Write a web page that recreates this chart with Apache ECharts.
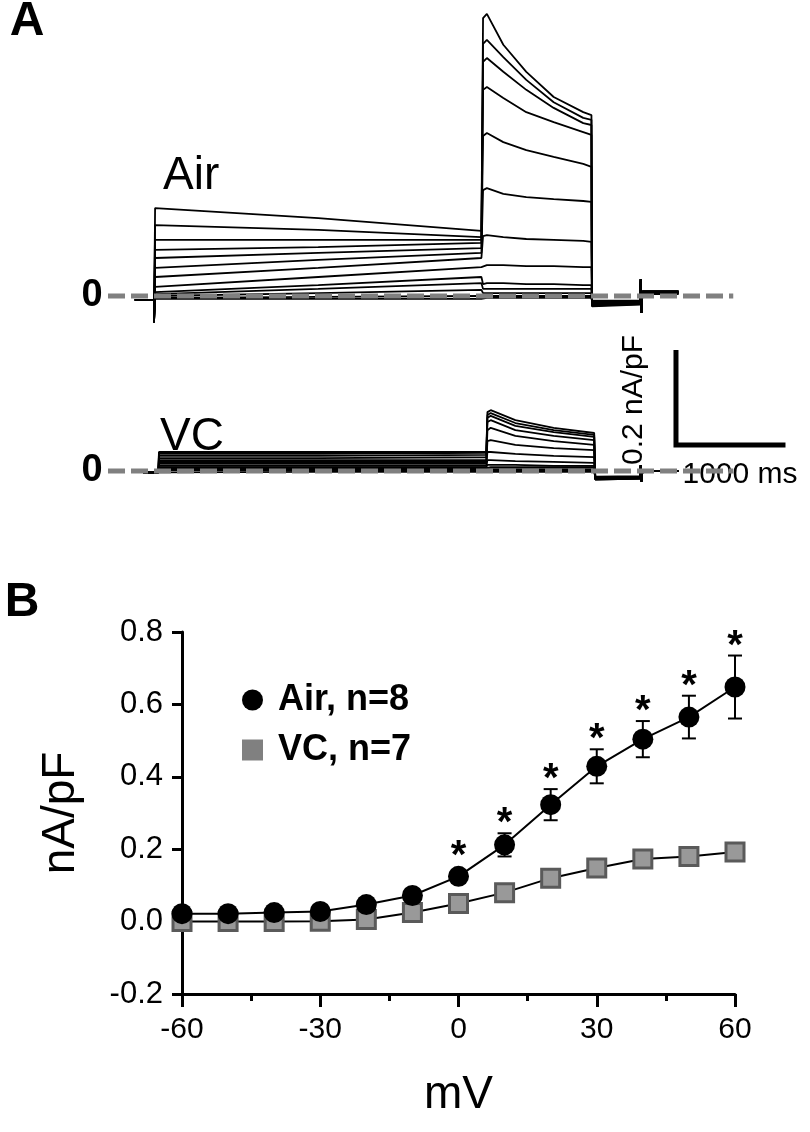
<!DOCTYPE html>
<html><head><meta charset="utf-8">
<script src="https://cdn.jsdelivr.net/npm/echarts@6/dist/echarts.min.js"></script>
<style>html,body{margin:0;padding:0;background:#fff}#c{width:810px;height:1132px}</style>
</head><body><div id="c"></div>
<script>
// ---------- Panel A : example current traces (nA/pF vs ms) ----------
const airTimes = [-175, 0, 0, 10, 1500, 2990, 3005, 3040, 3190, 3400, 3650, 3920, 3995, 4000, 4440, 4445, 4452, 4460, 4790];
const airTraces = [
  [-0.008,-0.008,-0.055, 0.185,0.164,0.137, 0.585,0.594,0.529,0.472,0.419,0.387,0.381, -0.022,-0.018, 0.035,-0.035, 0.010,0.010],
  [-0.008,-0.008,-0.055, 0.149,0.139,0.124, 0.531,0.539,0.503,0.455,0.408,0.375,0.371, -0.020,-0.016, 0.035,-0.035, 0.010,0.010],
  [-0.008,-0.008,-0.055, 0.118,0.118,0.118, 0.493,0.501,0.472,0.434,0.396,0.364,0.360, -0.020,-0.017, 0.035,-0.035, 0.009,0.009],
  [-0.008,-0.008,-0.055, 0.097,0.103,0.112, 0.434,0.440,0.417,0.387,0.366,0.345,0.339, -0.018,-0.015, 0.035,-0.035, 0.009,0.009],
  [-0.008,-0.008,-0.055, 0.080,0.091,0.101, 0.337,0.343,0.324,0.307,0.293,0.278,0.272, -0.017,-0.015, 0.035,-0.035, 0.008,0.008],
  [-0.008,-0.008,-0.055, 0.059,0.076,0.091, 0.223,0.227,0.215,0.208,0.204,0.200,0.198, -0.016,-0.014, 0.035,-0.035, 0.008,0.008],
  [-0.008,-0.008,-0.055, 0.040,0.059,0.080, 0.126,0.128,0.124,0.120,0.118,0.116,0.114, -0.015,-0.013, 0.035,-0.035, 0.008,0.008],
  [-0.008,-0.008,-0.055, 0.019,0.040,0.061, 0.063,0.065,0.065,0.063,0.063,0.061,0.061, -0.014,-0.013, 0.035,-0.035, 0.007,0.007],
  [-0.008,-0.008,-0.055, 0.008,0.023,0.040, 0.025,0.027,0.027,0.025,0.025,0.023,0.023, -0.013,-0.012, 0.035,-0.035, 0.007,0.007],
  [-0.008,-0.008,-0.055, 0.004,0.015,0.027, 0.015,0.015,0.015,0.015,0.015,0.015,0.015, -0.012,-0.012, 0.035,-0.035, 0.006,0.006],
  [-0.008,-0.008,-0.055, 0.000,0.006,0.013, 0.006,0.006,0.006,0.006,0.006,0.006,0.006, -0.012,-0.011, 0.035,-0.035, 0.005,0.005],
  [-0.008,-0.008,-0.055,-0.004,-0.002,0.000, 0.000,0.000,0.000,0.000,0.000,0.000,0.000, -0.011,-0.011, 0.035,-0.035, 0.005,0.005],
  [-0.008,-0.008,-0.055,-0.006,-0.006,-0.006, -0.004,-0.004,-0.004,-0.004,-0.004,-0.004,-0.004, -0.010,-0.010, 0.035,-0.035, 0.004,0.004]
];
const vcTimes = [-100, 40, 45, 1500, 3035, 3045, 3075, 3300, 3650, 4020, 4030, 4440, 4445, 4452, 4460, 4790];
const vcTraces = [
  [-0.003,-0.003, 0.040,0.040,0.040, 0.124,0.128,0.107,0.091,0.080, -0.018,-0.016, 0.012,-0.022, 0.000,0.000],
  [-0.003,-0.003, 0.036,0.036,0.038, 0.118,0.122,0.101,0.086,0.076, -0.018,-0.016, 0.012,-0.022, 0.000,0.000],
  [-0.003,-0.003, 0.032,0.032,0.034, 0.112,0.116,0.095,0.082,0.072, -0.017,-0.016, 0.012,-0.022, 0.000,0.000],
  [-0.003,-0.003, 0.027,0.027,0.029, 0.103,0.107,0.086,0.074,0.065, -0.017,-0.015, 0.012,-0.022, 0.000,0.000],
  [-0.003,-0.003, 0.023,0.023,0.023, 0.086,0.091,0.074,0.063,0.055, -0.016,-0.015, 0.012,-0.022, 0.000,0.000],
  [-0.003,-0.003, 0.019,0.019,0.019, 0.063,0.065,0.055,0.048,0.044, -0.016,-0.014, 0.012,-0.022, 0.000,0.000],
  [-0.003,-0.003, 0.015,0.015,0.015, 0.040,0.040,0.036,0.032,0.029, -0.015,-0.014, 0.012,-0.022, 0.000,0.000],
  [-0.003,-0.003, 0.011,0.011,0.011, 0.023,0.023,0.021,0.019,0.017, -0.015,-0.013, 0.012,-0.022, 0.000,0.000],
  [-0.003,-0.003, 0.008,0.008,0.008, 0.013,0.013,0.013,0.011,0.011, -0.014,-0.013, 0.012,-0.022, 0.000,0.000],
  [-0.003,-0.003, 0.006,0.006,0.006, 0.008,0.008,0.008,0.008,0.008, -0.014,-0.012, 0.012,-0.022, 0.000,0.000],
  [-0.003,-0.003, 0.004,0.004,0.004, 0.004,0.004,0.004,0.004,0.004, -0.013,-0.012, 0.012,-0.022, 0.000,0.000],
  [-0.003,-0.003, 0.002,0.002,0.002, 0.002,0.002,0.002,0.002,0.002, -0.013,-0.012, 0.012,-0.022, 0.000,0.000],
  [-0.003,-0.003,-0.002,-0.002,-0.002, -0.002,-0.002,-0.002,-0.002,-0.002, -0.012,-0.011, 0.012,-0.022, 0.000,0.000]
];
const zeroLineMs = [-420, 5290];
const scaleBarMs = 1000;
const scaleBarAmp = 0.2;
const scaleBarOrigin = [4767, 0.055];

// ---------- Panel B : I-V relation ----------
const voltages = [-60, -50, -40, -30, -20, -10, 0, 10, 20, 30, 40, 50, 60];
const airMean  = [0.022, 0.022, 0.025, 0.028, 0.047, 0.072, 0.125, 0.212, 0.323, 0.429, 0.504, 0.565, 0.648];
const airSem   = [0.000, 0.000, 0.000, 0.000, 0.000, 0.000, 0.008, 0.032, 0.043, 0.047, 0.050, 0.059, 0.087];
const vcMean   = [0.000, 0.000, 0.000, 0.001, 0.006, 0.025, 0.050, 0.080, 0.120, 0.148, 0.173, 0.180, 0.192];
const sigVoltages = [0, 10, 20, 30, 40, 50, 60];
const seriesNames = ['Air, n=8', 'VC, n=7'];

// ---------- layout ----------
const FONT = 'Liberation Sans, Arial, sans-serif';
const pxPerMs = 0.1095, pxPerNA = 475, onsetX = 154;
const tMin = -450, tMax = 5800;
const gLeft = onsetX + tMin * pxPerMs, gWidth = (tMax - tMin) * pxPerMs;
const airZeroY = 296, vcZeroY = 471;
const airY = [-0.06, 0.62], vcY = [-0.06, 0.26];

const chart = echarts.init(document.getElementById('c'), null, {renderer: 'canvas'});

function traceSeries(times, rows, gi) {
  return rows.map(row => ({
    type: 'line', xAxisIndex: gi, yAxisIndex: gi,
    data: times.map((t, j) => [t, row[j]]),
    symbol: 'none', silent: true, z: 2,
    lineStyle: {color: '#000', width: 1.8}
  }));
}
function zeroSeries(gi) {
  return {type: 'line', xAxisIndex: gi, yAxisIndex: gi, symbol: 'none', silent: true, z: 5,
    data: zeroLineMs.map(t => [t, 0]),
    lineStyle: {color: '#808080', width: 5, type: [17, 6]}};
}
const zeroLabelAxis = (gi, range) => ({
  type: 'value', gridIndex: gi, min: range[0], max: range[1], interval: 0.02,
  axisLine: {show: false}, axisTick: {show: false}, splitLine: {show: false},
  axisLabel: {show: true, margin: 2, color: '#000', fontFamily: FONT, fontSize: 38, fontWeight: 'bold',
    formatter: v => Math.abs(v) < 1e-6 ? '0' : ''}
});

const series = [
  ...traceSeries(airTimes, airTraces, 0),
  ...traceSeries(vcTimes, vcTraces, 1),
  zeroSeries(0), zeroSeries(1),
  {type: 'line', xAxisIndex: 1, yAxisIndex: 1, symbol: 'none', silent: true, z: 6,
    data: [[scaleBarOrigin[0], scaleBarOrigin[1] + scaleBarAmp], scaleBarOrigin, [scaleBarOrigin[0] + scaleBarMs, scaleBarOrigin[1]]],
    lineStyle: {color: '#000', width: 5, cap: 'butt', join: 'miter'}},
  {type: 'line', name: seriesNames[1], xAxisIndex: 2, yAxisIndex: 2, z: 3,
    data: voltages.map((v, i) => [v, vcMean[i]]),
    symbol: 'rect', symbolSize: 18,
    itemStyle: {color: '#999999', borderColor: '#5a5a5a', borderWidth: 3},
    lineStyle: {color: '#000', width: 2}},
  {type: 'custom', xAxisIndex: 2, yAxisIndex: 2, z: 4, silent: true,
    data: voltages.map((v, i) => [v, airMean[i], airSem[i]]),
    encode: {x: 0, y: 1},
    renderItem: (params, api) => {
      const x = api.value(0), m = api.value(1), e = api.value(2);
      const t = api.coord([x, m + e]), b = api.coord([x, m - e]);
      const w = 7, st = {stroke: '#000', lineWidth: 2};
      return {type: 'group', children: [
        {type: 'line', shape: {x1: t[0], y1: t[1], x2: b[0], y2: b[1]}, style: st},
        {type: 'line', shape: {x1: t[0] - w, y1: t[1], x2: t[0] + w, y2: t[1]}, style: st},
        {type: 'line', shape: {x1: b[0] - w, y1: b[1], x2: b[0] + w, y2: b[1]}, style: st}
      ]};
    }},
  {type: 'line', name: seriesNames[0], xAxisIndex: 2, yAxisIndex: 2, z: 5,
    data: voltages.map((v, i) => [v, airMean[i]]),
    symbol: 'circle', symbolSize: 21,
    itemStyle: {color: '#000'},
    lineStyle: {color: '#000', width: 2}},
  {type: 'custom', xAxisIndex: 2, yAxisIndex: 2, z: 6, silent: true,
    data: sigVoltages.map(v => { const i = voltages.indexOf(v); return [v, airMean[i], airSem[i]]; }),
    encode: {x: 0, y: 1},
    renderItem: (params, api) => {
      const x = api.value(0), m = api.value(1), e = api.value(2);
      const top = Math.min(api.coord([x, m + e])[1], api.coord([x, m])[1] - 10);
      const c = api.coord([x, m]);
      return {type: 'text', x: c[0], y: top - 9,
        style: {text: '*', fill: '#000', font: 'bold 40px ' + FONT,
          align: 'center', verticalAlign: 'middle', textAlign: 'center', textVerticalAlign: 'middle'}};
    }}
];

const txt = (text, x, y, size, weight, align, rot) => ({
  type: 'text', x, y, rotation: rot || 0, silent: true,
  style: {text, fill: '#000', font: (weight || 'normal') + ' ' + size + 'px ' + FONT,
    align: align || 'left', verticalAlign: 'middle', textAlign: align || 'left', textVerticalAlign: 'middle'}
});

chart.setOption({
  animation: false,
  backgroundColor: '#fff',
  grid: [
    {left: gLeft, width: gWidth, top: airZeroY - airY[1] * pxPerNA, height: (airY[1] - airY[0]) * pxPerNA},
    {left: gLeft, width: gWidth, top: vcZeroY - vcY[1] * pxPerNA, height: (vcY[1] - vcY[0]) * pxPerNA},
    {left: 182, right: 75, top: 632, bottom: 138}
  ],
  xAxis: [
    {type: 'value', gridIndex: 0, min: tMin, max: tMax, show: false},
    {type: 'value', gridIndex: 1, min: tMin, max: tMax, show: false},
    {type: 'value', gridIndex: 2, min: -60, max: 60, interval: 30,
      axisLine: {onZero: false, lineStyle: {color: '#000', width: 3}},
      axisTick: {show: true, inside: false, length: 13, lineStyle: {color: '#000', width: 3}},
      minorTick: {show: true, splitNumber: 2, length: 7, lineStyle: {color: '#000', width: 3}},
      splitLine: {show: false},
      axisLabel: {color: '#000', fontFamily: FONT, fontSize: 30, margin: 21},
      name: 'mV', nameLocation: 'middle', nameGap: 78,
      nameTextStyle: {color: '#000', fontFamily: FONT, fontSize: 46}}
  ],
  yAxis: [
    zeroLabelAxis(0, airY),
    zeroLabelAxis(1, vcY),
    {type: 'value', gridIndex: 2, min: -0.2, max: 0.8, interval: 0.2,
      axisLine: {show: true, onZero: false, lineStyle: {color: '#000', width: 3}},
      axisTick: {show: true, inside: false, length: 10, lineStyle: {color: '#000', width: 3}},
      splitLine: {show: false},
      axisLabel: {color: '#000', fontFamily: FONT, fontSize: 31, margin: 19, formatter: v => v.toFixed(1)},
      name: 'nA/pF', nameLocation: 'middle', nameGap: 98,
      nameTextStyle: {color: '#000', fontFamily: FONT, fontSize: 46}}
  ],
  legend: {
    orient: 'vertical', left: 237, top: 677, itemWidth: 21, itemHeight: 21, itemGap: 14,
    selectedMode: false,
    textStyle: {color: '#000', fontFamily: FONT, fontSize: 36, fontWeight: 'bold', padding: [0, 0, 0, 10]},
    data: [
      {name: seriesNames[0], icon: 'circle', itemStyle: {color: '#000', borderWidth: 0}},
      {name: seriesNames[1], icon: 'rect', itemStyle: {color: '#808080', borderWidth: 0}}
    ]
  },
  graphic: [
    txt('A', 27, 22, 48, 'bold', 'center'),
    txt('B', 22, 603, 48, 'bold', 'center'),
    txt('Air', 163, 176, 46),
    txt('VC', 160, 437, 46),
    txt('0.2 nA/pF', 634, 400, 30, 'normal', 'center', Math.PI / 2),
    txt('1000 ms', 740, 475, 30, 'normal', 'center')
  ],
  series
});
</script>
</body></html>
